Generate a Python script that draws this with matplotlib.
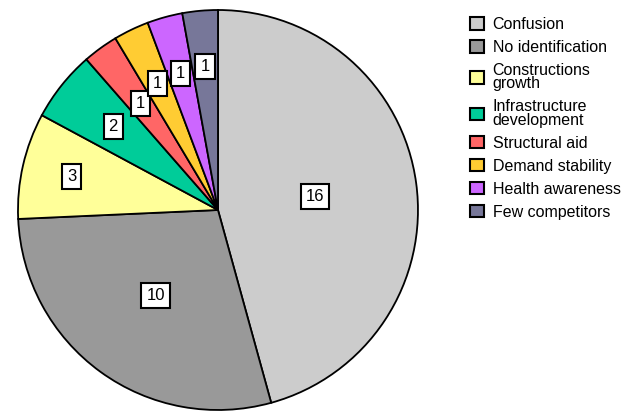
import numpy as np
import matplotlib
matplotlib.use("Agg")
import matplotlib.pyplot as plt

categories = ["Confusion", "No identification", "Constructions\ngrowth",
              "Infrastructure\ndevelopment", "Structural aid", "Demand stability",
              "Health awareness", "Few competitors"]
values = [16, 10, 3, 2, 1, 1, 1, 1]
colors = ["#CCCCCC", "#999999", "#FFFF99", "#00CC99", "#FF6666",
          "#FFCC33", "#CC66FF", "#777799"]
label_r = [0.49, 0.53, 0.75, 0.67, 0.66, 0.70, 0.71, 0.72]

plt.rcParams['font.family'] = ['Liberation Sans', 'DejaVu Sans']

fig = plt.figure(figsize=(6.22, 4.12), dpi=100)
ax = fig.add_axes([0.0257, 0.0, 0.6495, 0.9806])
wedges, _ = ax.pie(values, colors=colors, startangle=90, counterclock=False,
                   wedgeprops=dict(edgecolor="black", linewidth=1.3))
ax.set_xlim(-1.01, 1.01)
ax.set_ylim(-1.01, 1.01)
ax.set_aspect("equal")

for w, v, r in zip(wedges, values, label_r):
    ang = np.deg2rad((w.theta1 + w.theta2) / 2)
    ax.text(r * np.cos(ang), r * np.sin(ang), str(v), ha="center", va="center",
            fontsize=12,
            bbox=dict(boxstyle="square,pad=0.3", facecolor="white",
                      edgecolor="black", linewidth=1.5))

leg = fig.legend(wedges, categories, loc="upper left",
                 bbox_to_anchor=(0.756, 0.958), frameon=False, fontsize=11.5,
                 handlelength=0.85, handleheight=0.85, handletextpad=0.55,
                 labelspacing=0.5, borderaxespad=0, borderpad=0)
for t in leg.get_texts():
    t.set_linespacing(0.85)
for h in leg.legend_handles:
    h.set_linewidth(1.5)

fig.savefig("out.png", dpi=100)
